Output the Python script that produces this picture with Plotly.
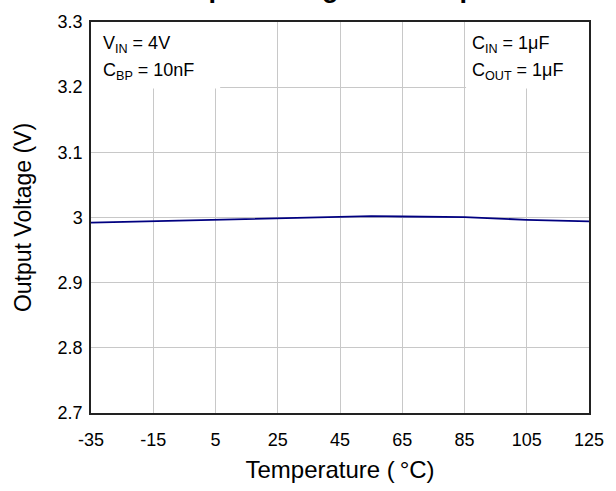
import plotly.graph_objects as go

# Output voltage of the regulator across the operating temperature range
temperature_c = [-35, -15, 5, 25, 45, 55, 65, 85, 105, 125]
output_voltage_v = [2.992, 2.994, 2.9965, 2.9985, 3.0005, 3.002, 3.0015, 3.0005, 2.9965, 2.994]

x_ticks = [-35, -15, 5, 25, 45, 65, 85, 105, 125]
y_ticks = [2.7, 2.8, 2.9, 3.0, 3.1, 3.2, 3.3]
y_tick_text = ["2.7", "2.8", "2.9", "3", "3.1", "3.2", "3.3"]

FONT = "Liberation Sans, Arial, sans-serif"

fig = go.Figure()
fig.add_trace(go.Scatter(
    x=temperature_c, y=output_voltage_v, mode="lines",
    line=dict(color="#000080", width=1.8), showlegend=False,
))

axis_common = dict(
    showgrid=True, gridcolor="#c8c8c8", gridwidth=1,
    zeroline=False, showline=True, linecolor="#222222", linewidth=1.5,
    mirror=True, ticks="", tickfont=dict(family=FONT, size=18, color="#000000"),
)

fig.update_xaxes(
    range=[-35, 125], tickvals=x_ticks, ticktext=[str(v) for v in x_ticks],
    ticklabelstandoff=10,
    title=dict(text="Temperature (\u2009°C)", font=dict(family=FONT, size=24, color="#000000"), standoff=12),
    **axis_common,
)
fig.update_yaxes(
    range=[2.7, 3.3], tickvals=y_ticks, ticktext=y_tick_text,
    ticklabelstandoff=3,
    title=dict(text="Output Voltage (V)", font=dict(family=FONT, size=23, color="#000000"), standoff=20),
    **axis_common,
)

# white panels behind the condition notes hide the gridlines there
fig.add_shape(type="rect", xref="x", yref="y", x0=-35, x1=6.5, y0=3.198, y1=3.3,
              fillcolor="white", line=dict(width=0), layer="between")
fig.add_shape(type="rect", xref="x", yref="y", x0=85.5, x1=125, y0=3.198, y1=3.3,
              fillcolor="white", line=dict(width=0), layer="between")

note_font = dict(family=FONT, size=18, color="#000000")
notes = [
    (-31.8, 3.2648, "V<sub>IN</sub> = 4V"),
    (-31.8, 3.2240, "C<sub>BP</sub> = 10nF"),
    (86.8, 3.2648, "C<sub>IN</sub> = 1μF"),
    (86.8, 3.2240, "C<sub>OUT</sub> = 1μF"),
]
for nx, ny, txt in notes:
    fig.add_annotation(x=nx, y=ny, xref="x", yref="y", text=txt, showarrow=False,
                       xanchor="left", yanchor="middle", font=note_font)

# chart title sits mostly above the top edge of the page
fig.add_annotation(x=0.55, y=1.0, xref="paper", yref="paper", yshift=17,
                   text="<b>Output Voltage vs. Temperature</b>", showarrow=False,
                   xanchor="center", yanchor="bottom",
                   font=dict(family=FONT, size=27, color="#000000"))

fig.update_layout(
    width=616, height=491,
    margin=dict(l=91, r=21, t=16, b=78),
    paper_bgcolor="white", plot_bgcolor="white",
)

fig.write_html("out.html")
